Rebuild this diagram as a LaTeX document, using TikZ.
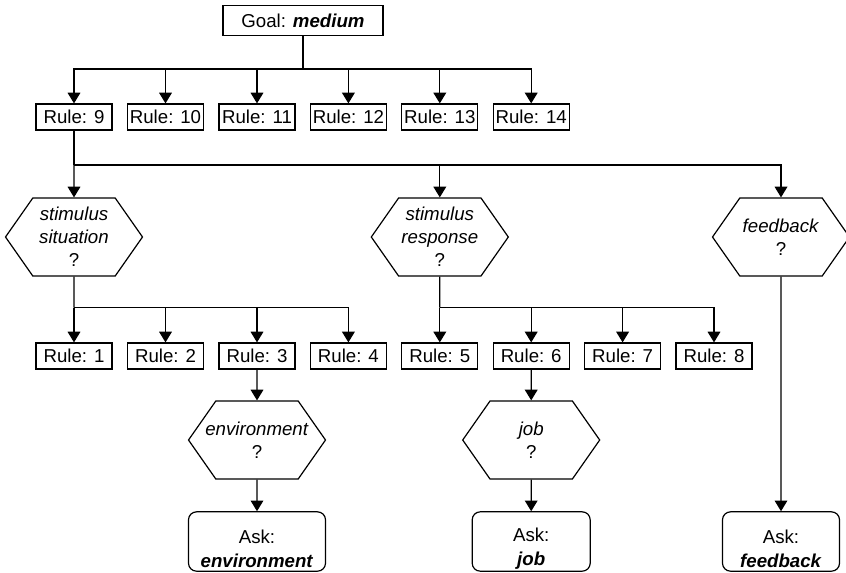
\documentclass[tikz,border=0pt]{standalone}
\usepackage{fontspec}
\setmainfont{Liberation Sans}
\usetikzlibrary{shapes.symbols,arrows.meta}

\begin{document}
\begin{tikzpicture}[x=0.75pt,y=-0.75pt,->,>={Triangle[width=9.5pt,length=8pt]},line width=0.9pt,font=\fontsize{14}{17}\selectfont]
\tikzstyle{rule}=[draw,rectangle,minimum width=57pt,minimum height=19.5pt,inner sep=1pt]
\tikzstyle{hexa}=[draw,signal,signal to=west and east,signal pointer angle=110,minimum width=102.75pt,minimum height=58.5pt,inner ysep=0pt,inner xsep=-14pt,align=center,font=\fontsize{14}{17.25}\selectfont]
\tikzstyle{ask}=[draw,rectangle,rounded corners=6pt,minimum height=44.5pt,inner ysep=0pt,align=center,font=\fontsize{14}{18}\selectfont]
\useasboundingbox (0,0) rectangle (846,572);

\node[rule,minimum width=120pt,minimum height=22.5pt] (goal) at (303,20.7) {Goal: \textbf{\textit{medium}}};
\foreach \n/\x in {9/74,10/165.5,11/257,12/348.4,13/439.8,14/531.2}
  \node[rule] (r\n) at (\x,117) {Rule: \n};
\foreach \n/\x in {1/74,2/165.5,3/257,4/348.4,5/439.8,6/531.2,7/622.6,8/714}
  \node[rule] (r\n) at (\x,356) {Rule: \n};

\node[hexa] (situation) at (74,237) {\textit{stimulus}\\\textit{situation}\\?};
\node[hexa] (response) at (439.8,237) {\textit{stimulus}\\\textit{response}\\?};
\node[hexa] (feedback) at (781,237) {\textit{feedback}\\?};
\node[hexa] (environment) at (257,440) {\textit{environment}\\?};
\node[hexa] (job) at (531.2,440) {\textit{job}\\?};

\node[ask,minimum width=102.75pt] (askenv) at (257,541.5) {\rule{0pt}{21pt}Ask:\\\textbf{\textit{environment}}};
\node[ask,minimum width=88.5pt] (askjob) at (531.2,541.5) {\rule{0pt}{21pt}Ask:\\\textbf{\textit{job}}};
\node[ask,minimum width=87.75pt] (askfb) at (781,541.5) {\rule{0pt}{21pt}Ask:\\\textbf{\textit{feedback}}};

\coordinate (top) at (303,69);
\coordinate (mid) at (74,165);
\coordinate (lowL) at (74,307.5);
\coordinate (lowR) at (439.8,307.5);

\draw[-] (goal) -- (top);
\foreach \n in {9,...,14}
  \draw (top) -| (r\n);
\draw[-] (r9) -- (mid);
\draw (mid) -- (situation);
\draw (mid) -| (response);
\draw (mid) -| (feedback);
\draw[-] (situation) -- (lowL);
\foreach \n in {1,...,4}
  \draw (lowL) -| (r\n);
\draw[-] (response) -- (lowR);
\foreach \n in {5,...,8}
  \draw (lowR) -| (r\n);
\draw (r3) -- (environment);
\draw (r6) -- (job);
\draw (environment) -- (askenv);
\draw (job) -- (askjob);
\draw (feedback) -- (askfb);
\end{tikzpicture}
\end{document}
